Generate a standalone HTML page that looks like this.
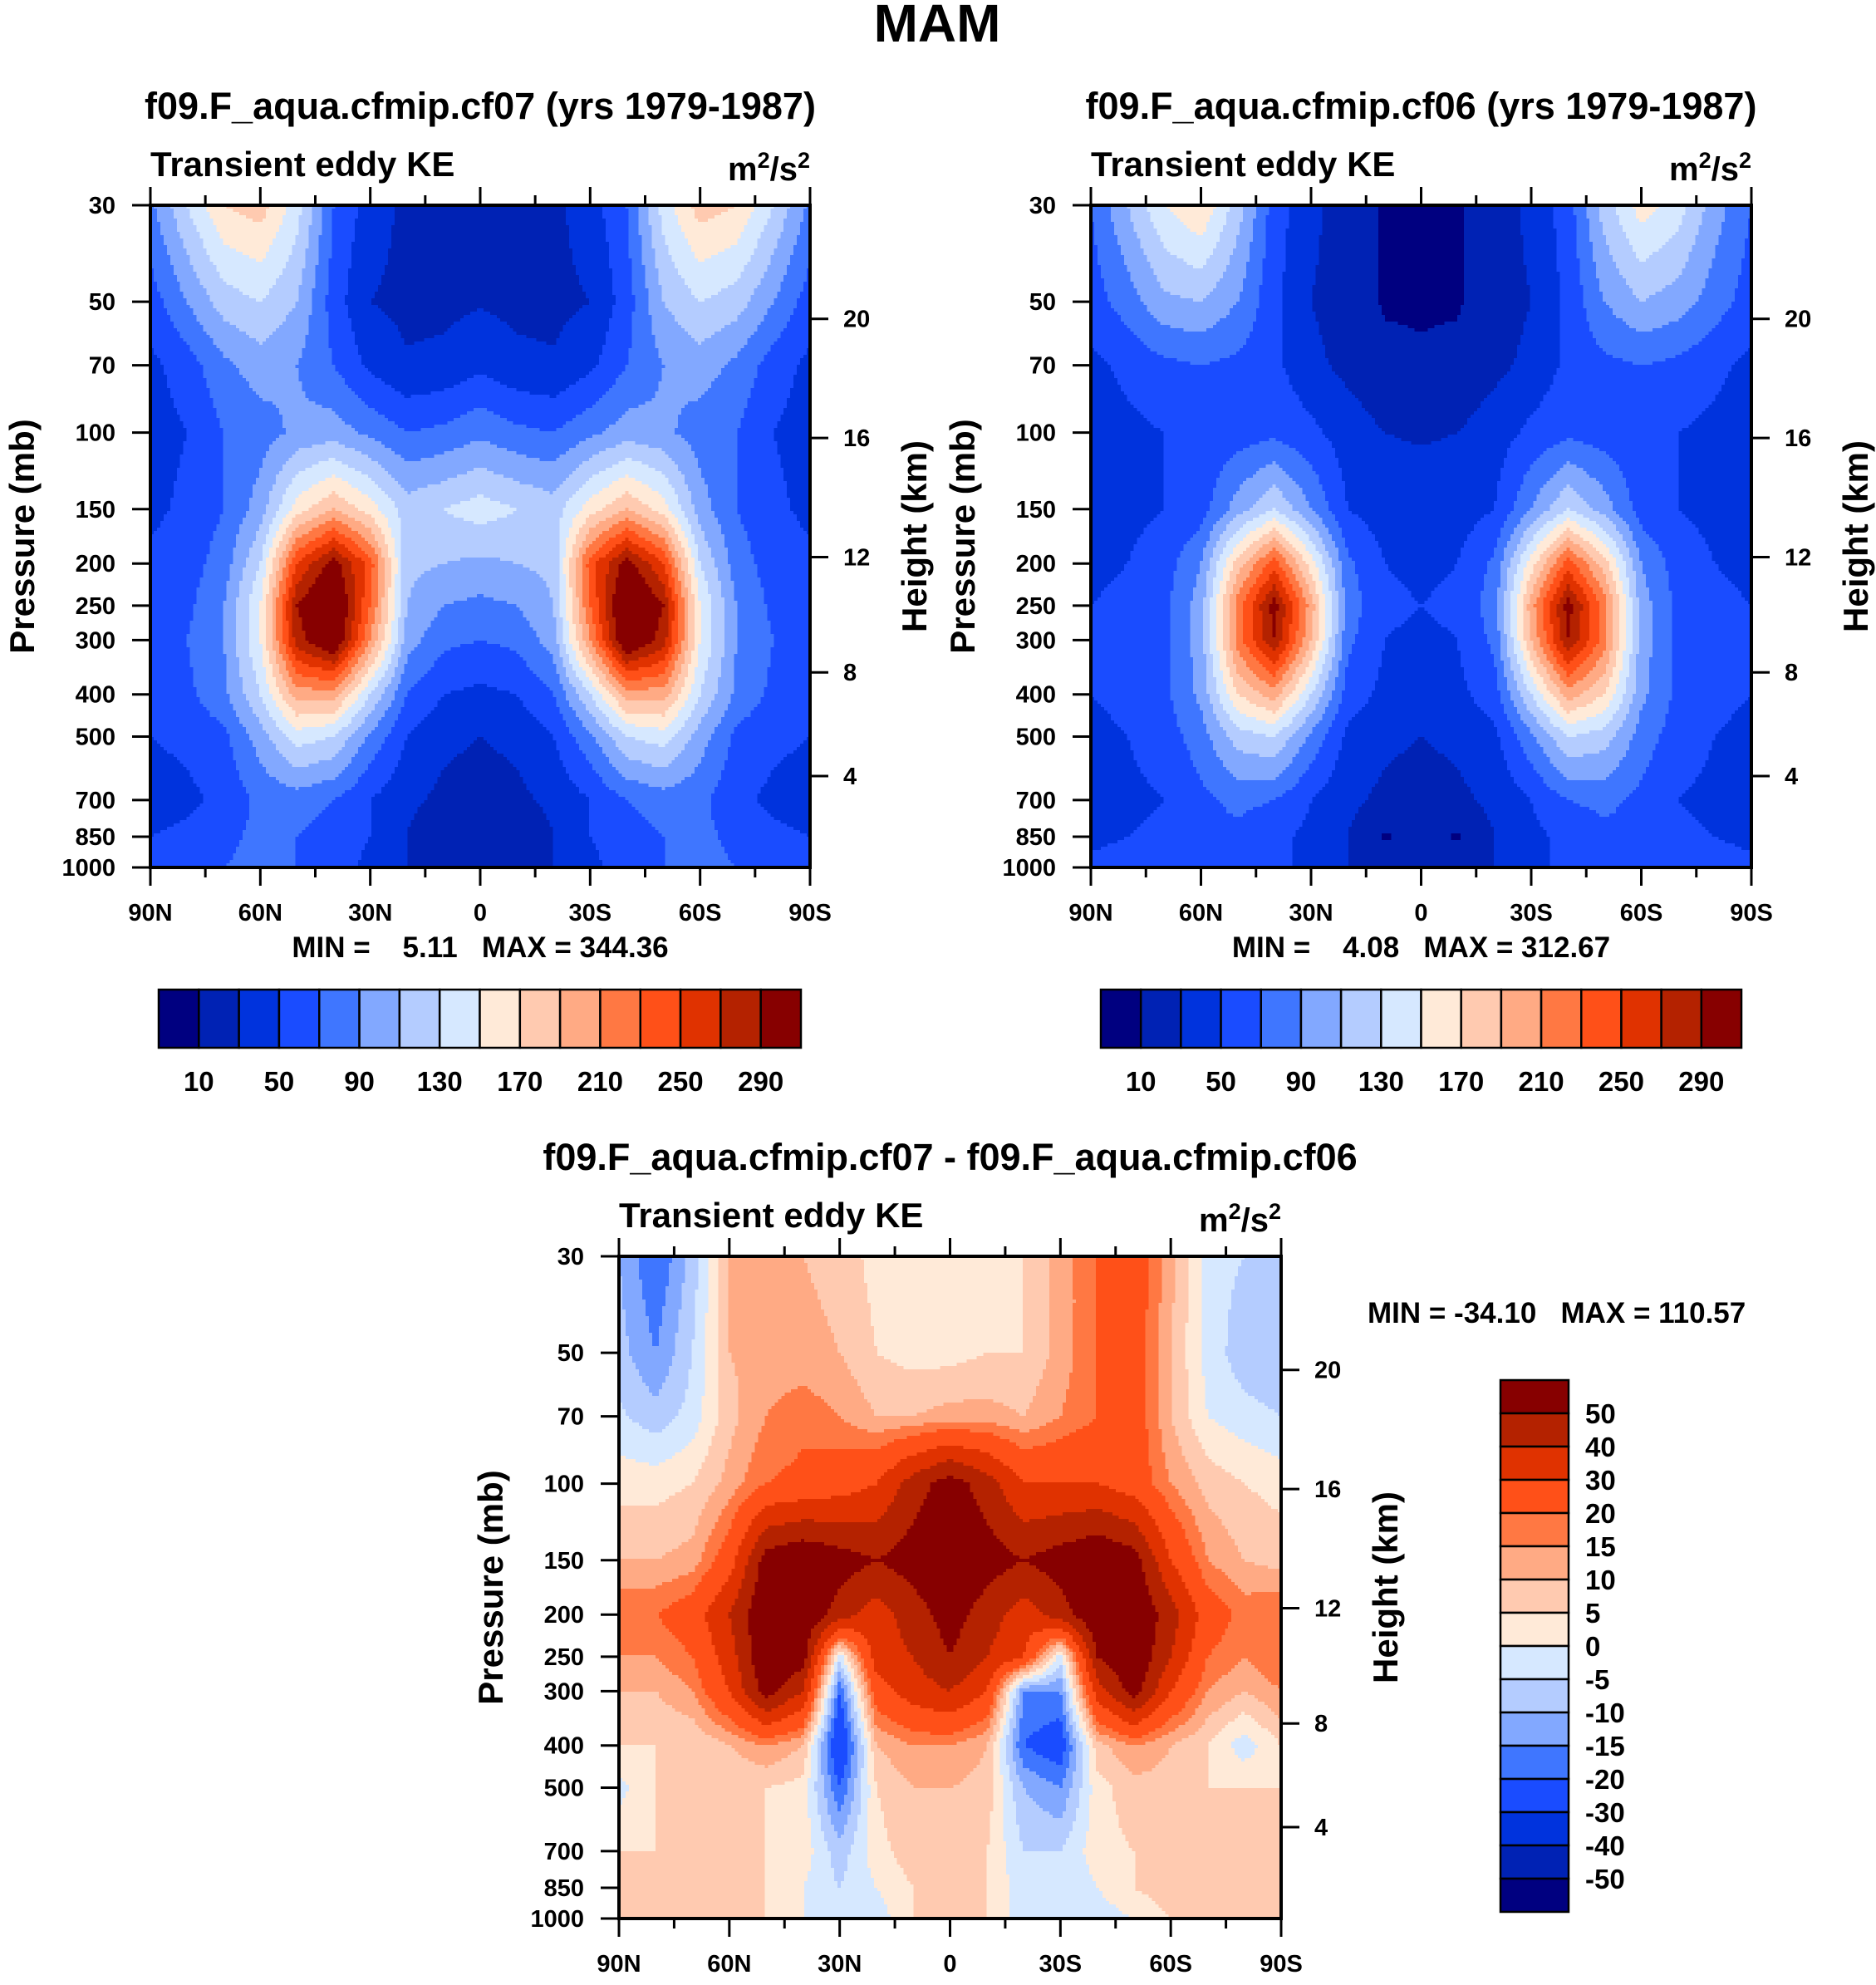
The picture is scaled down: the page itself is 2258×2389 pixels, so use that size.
<!DOCTYPE html>
<html><head><meta charset="utf-8">
<style>
body{margin:0;background:#fff;width:2258px;height:2384px;overflow:hidden;font-family:"Liberation Sans",sans-serif;}
svg text{font-family:"Liberation Sans",sans-serif;font-weight:bold;fill:#000;}
</style></head>
<body>
<svg id="chart" width="2258" height="2384" xmlns="http://www.w3.org/2000/svg">
<text x="1128" y="50" font-size="64" text-anchor="middle">MAM</text>
</svg>
<script>
// ---- data ----
const pressures = [30,50,70,100,150,200,250,300,400,500,700,850,1000];
const lats = [90,80,70,60,50,40,30,20,10,0,-10,-20,-30,-40,-50,-60,-70,-80,-90];
const absLevels = [10,30,50,70,90,110,130,150,170,190,210,230,250,270,290];
const absLabels = ["10","50","90","130","170","210","250","290"];
const diffLevels = [-50,-40,-30,-20,-15,-10,-5,0,5,10,15,20,30,40,50];
const diffLabels = ["50","40","30","20","15","10","5","0","-5","-10","-15","-20","-30","-40","-50"];
const palette = ["#000080","#0022B4","#0033DD","#1A4CFF","#3F76FF","#82A8FF","#B4CCFF","#D6E8FF","#FFEAD8","#FFCAB0","#FFAA84","#FF7843","#FF5018","#E03200","#B42200","#870000"];
const latTickLabels = ["90N","60N","30N","0","30S","60S","90S"];
const latTicks = [90,60,30,0,-30,-60,-90];
const heightTicks = [4,8,12,16,20];

const fieldCf07 = [
[85,130,170,180,140,70,40,25,25,25,25,25,40,70,140,180,170,130,85],
[60,90,120,130,110,60,30,25,25,28,25,25,30,60,110,130,120,90,60],
[45,60,85,100,90,70,45,32,35,45,35,32,45,70,90,100,85,60,45],
[40,50,70,80,95,100,85,70,75,85,75,70,85,100,95,80,70,50,40],
[45,55,70,100,160,190,160,120,130,140,130,120,160,190,160,100,70,55,45],
[55,60,80,130,250,300,240,115,110,105,110,115,240,300,250,130,80,60,55],
[55,65,90,150,290,330,230,110,90,85,90,110,230,330,290,150,90,65,55],
[60,70,90,150,280,320,210,100,75,70,75,100,210,320,280,150,90,70,60],
[60,65,85,130,200,200,130,70,50,45,50,70,130,200,200,130,85,65,60],
[50,55,65,100,140,130,85,50,35,30,35,50,85,130,140,100,65,55,50],
[40,45,55,75,80,70,50,35,25,20,25,35,50,70,80,75,55,45,40],
[50,55,65,75,70,60,50,30,10,18,10,30,50,60,70,75,65,55,50],
[60,65,70,75,70,60,45,30,20,20,20,30,45,60,70,75,70,65,60]];

const fieldCf06 = [
[70,110,150,170,120,60,35,20,8,8,8,20,35,60,120,160,140,100,70],
[60,80,105,110,90,55,30,20,8,8,8,20,30,55,90,110,100,80,60],
[45,55,65,70,65,55,35,25,15,12,15,25,35,55,65,70,65,55,45],
[40,45,50,55,60,65,55,40,30,28,30,40,55,65,60,55,50,45,40],
[40,45,50,60,100,130,90,50,40,40,40,50,90,130,100,60,50,45,40],
[45,50,60,90,180,240,160,75,50,45,50,75,160,240,180,90,60,50,45],
[50,55,65,100,220,300,200,80,55,50,55,80,200,300,220,100,65,55,50],
[50,55,65,100,220,290,190,75,50,45,50,75,190,290,220,100,65,55,50],
[50,55,65,95,170,200,130,60,45,40,45,60,130,200,170,95,65,55,50],
[45,50,60,80,120,130,85,45,35,30,35,45,85,130,120,80,60,50,45],
[40,45,50,65,75,70,50,35,25,20,25,35,50,70,75,65,50,45,40],
[45,50,55,65,65,55,45,30,8,15,8,30,45,55,65,65,55,50,45],
[55,60,65,70,65,55,45,30,20,18,20,30,45,55,65,70,65,60,55]];

const fieldDiff = [
[-10,-20,-8,10,10,10,8,3,3,3,3,5,12,20,25,12,-3,-5,-8],
[-8,-15,-5,10,12,12,10,5,3,3,5,5,12,20,25,10,-2,-8,-10],
[-4,-8,-3,8,15,18,15,10,10,12,12,10,15,20,25,10,0,-3,-5],
[3,3,5,12,20,22,25,30,45,55,45,30,30,30,25,15,8,5,3],
[10,10,12,25,55,60,55,50,55,60,55,50,55,60,55,30,15,10,8],
[20,20,25,40,60,60,45,35,45,55,45,35,45,60,60,45,25,18,20],
[15,15,20,35,60,55,-3,35,40,50,40,30,-3,50,60,40,20,15,20],
[10,10,15,30,55,40,-20,25,35,40,30,-15,-15,35,55,30,15,10,15],
[5,5,5,10,15,10,-30,10,15,15,10,-20,-25,8,15,10,5,-3,5],
[-2,5,5,5,5,3,-20,5,10,10,8,-10,-15,3,8,8,5,5,5],
[5,5,5,5,5,3,-8,3,8,8,5,-5,-5,3,5,5,5,5,5],
[8,8,8,8,5,0,-5,0,5,8,5,-3,-5,0,5,8,8,8,8],
[8,8,8,8,5,0,-3,-3,5,8,5,-3,-3,-3,0,5,8,8,8]];

// ---- drawing ----
const NS="http://www.w3.org/2000/svg";
const svg=document.getElementById('chart');
function mk(tag,attrs,parent){const e=document.createElementNS(NS,tag);for(const k in attrs)e.setAttribute(k,attrs[k]);(parent||svg).appendChild(e);return e;}
const LNP=pressures.map(p=>Math.log(p));
function yOfP(b,p){return b.y1-(Math.log(1000/p)/Math.log(1000/30))*(b.y1-b.y0);}
function xOfLat(b,lat){return b.x0+(90-lat)/180*(b.x1-b.x0);}
function pOfH(h){const m=h*1000;return m<=11000?1013.25*Math.pow(1-2.25577e-5*m,5.25588):226.32*Math.exp(-(m-11000)/6341.6);}
function sample(field,lat,lnp){
  let fi=(90-lat)/10; fi=Math.max(0,Math.min(17.9999,fi)); const i=Math.floor(fi), tx=fi-i;
  let j=0; while(j<LNP.length-2 && lnp>LNP[j+1]) j++;
  let ty=(lnp-LNP[j])/(LNP[j+1]-LNP[j]); ty=Math.max(0,Math.min(1,ty));
  const a=field[j][i]*(1-tx)+field[j][i+1]*tx, c=field[j+1][i]*(1-tx)+field[j+1][i+1]*tx;
  return a*(1-ty)+c*ty;
}
function cidx(v,levels){let k=0;while(k<levels.length&&v>=levels[k])k++;return k;}

function panel(id,b,field,levels,title,minmax){
  const g=mk('g',{});
  
  
  const cells=mk('g',{'shape-rendering':'crispEdges'},g);
  
  
  const nx=200, step=4;
  const cw=(b.x1-b.x0)/nx;
  for(let y=b.y0;y<b.y1;y+=step){
    const yc=Math.min(y+step/2,b.y1);
    const frac=(b.y1-yc)/(b.y1-b.y0);
    const lnp=Math.log(1000)-frac*Math.log(1000/30);
    let start=0, prev=-1;
    for(let ix=0;ix<=nx;ix++){
      let c=-2;
      if(ix<nx){const lat=90-180*(ix+0.5)/nx;c=cidx(sample(field,lat,lnp),levels);}
      if(c!==prev){
        if(prev>=0){
          const r=mk('rect',{x:(b.x0+start*cw).toFixed(1),y:y,width:((ix-start)*cw+0.6).toFixed(1),height:Math.min(step+0.6,b.y1-y),fill:palette[prev]},cells);
          
          
        }
        start=ix;prev=c;
      }
    }
  }
  const fr=mk('rect',{x:b.x0,y:b.y0,width:b.x1-b.x0,height:b.y1-b.y0,fill:'none',stroke:'#000','stroke-width':4},g);
  
  
  for(let lat=90;lat>=-90;lat-=15){
    const x=xOfLat(b,lat), major=lat%30===0, L=major?22:12;
    mk('line',{x1:x,x2:x,y1:b.y0,y2:b.y0-L,stroke:'#000','stroke-width':3},g);
    mk('line',{x1:x,x2:x,y1:b.y1,y2:b.y1+L,stroke:'#000','stroke-width':3},g);
  }
  latTicks.forEach((lat,i)=>{
    const t=mk('text',{x:xOfLat(b,lat),y:b.y1+64,'font-size':29,'text-anchor':'middle'},g);
    t.textContent=latTickLabels[i];
    
    
  });
  pressures.forEach(p=>{
    const y=yOfP(b,p);
    mk('line',{x1:b.x0,x2:b.x0-22,y1:y,y2:y,stroke:'#000','stroke-width':3},g);
    const t=mk('text',{x:b.x0-42,y:y+10,'font-size':29,'text-anchor':'end'},g);
    t.textContent=p;
    
    
  });
  heightTicks.forEach(h=>{
    const y=yOfP(b,pOfH(h));
    mk('line',{x1:b.x1,x2:b.x1+22,y1:y,y2:y,stroke:'#000','stroke-width':3},g);
    const t=mk('text',{x:b.x1+40,y:y+10,'font-size':29},g);
    t.textContent=h;
    
    
  });
  const cx=(b.x0+b.x1)/2, cy=(b.y0+b.y1)/2;
  let t=mk('text',{x:cx,y:b.y0-104,'font-size':45,'text-anchor':'middle'},g);
  t.textContent=title;  
  t=mk('text',{x:b.x0,y:b.y0-35,'font-size':42},g);
  t.textContent='Transient eddy KE';  
  t=mk('text',{x:b.x1,y:b.y0-30,'font-size':40,'text-anchor':'end'},g);
  t.innerHTML='m<tspan dy="-15" font-size="27">2</tspan><tspan dy="15">/s</tspan><tspan dy="-15" font-size="27">2</tspan>';
   
  t=mk('text',{x:b.x0-140,y:cy,'font-size':42,'text-anchor':'middle',transform:`rotate(-90 ${b.x0-140} ${cy})`},g);
  t.textContent='Pressure (mb)';  
  t=mk('text',{x:b.x1+140,y:cy,'font-size':42,'text-anchor':'middle',transform:`rotate(-90 ${b.x1+140} ${cy})`},g);
  t.textContent='Height (km)';  
  if(minmax){
    t=mk('text',{x:cx,y:b.y1+108,'font-size':35,'text-anchor':'middle'},g);
    t.textContent=minmax;  
  }
}
function hbar(id,x0,x1,y0,y1){
  const g=mk('g',{});  
  const w=(x1-x0)/palette.length;
  palette.forEach((c,i)=>{const r=mk('rect',{x:x0+i*w,y:y0,width:w,height:y1-y0,fill:c,stroke:'#000','stroke-width':2.5},g);
     });
  absLabels.forEach((s,k)=>{const t=mk('text',{x:x0+(2*k+1)*w,y:y1+52,'font-size':33,'text-anchor':'middle'},g);t.textContent=s;
     });
}
function vbar(id,x0,x1,y0,y1){
  const g=mk('g',{});  
  const h=(y1-y0)/palette.length;
  palette.slice().reverse().forEach((c,i)=>{const r=mk('rect',{x:x0,y:y0+i*h,width:x1-x0,height:h,fill:c,stroke:'#000','stroke-width':2.5},g);
     });
  diffLabels.forEach((s,k)=>{const t=mk('text',{x:x1+20,y:y0+(k+1)*h+12,'font-size':33},g);t.textContent=s;
     });
}
const S='\u00a0';
panel('panel-cf07',{x0:181,x1:975,y0:247,y1:1044},fieldCf07,absLevels,'f09.F_aqua.cfmip.cf07 (yrs 1979-1987)','MIN ='+S+S+S+S+'5.11'+S+S+S+'MAX = 344.36');
panel('panel-cf06',{x0:1313,x1:2108,y0:247,y1:1044},fieldCf06,absLevels,'f09.F_aqua.cfmip.cf06 (yrs 1979-1987)','MIN ='+S+S+S+S+'4.08'+S+S+S+'MAX = 312.67');
panel('panel-diff',{x0:745,x1:1542,y0:1512,y1:2309},fieldDiff,diffLevels,'f09.F_aqua.cfmip.cf07 - f09.F_aqua.cfmip.cf06',null);
hbar('colorbar-cf07',191,964,1191,1261);
hbar('colorbar-cf06',1325,2096,1191,1261);
vbar('colorbar-diff',1806,1888,1661,2301);
const mm=mk('text',{x:1646,y:1592,'font-size':35});
mm.textContent='MIN = -34.10'+S+S+S+'MAX = 110.57';


</script>
</body></html>
